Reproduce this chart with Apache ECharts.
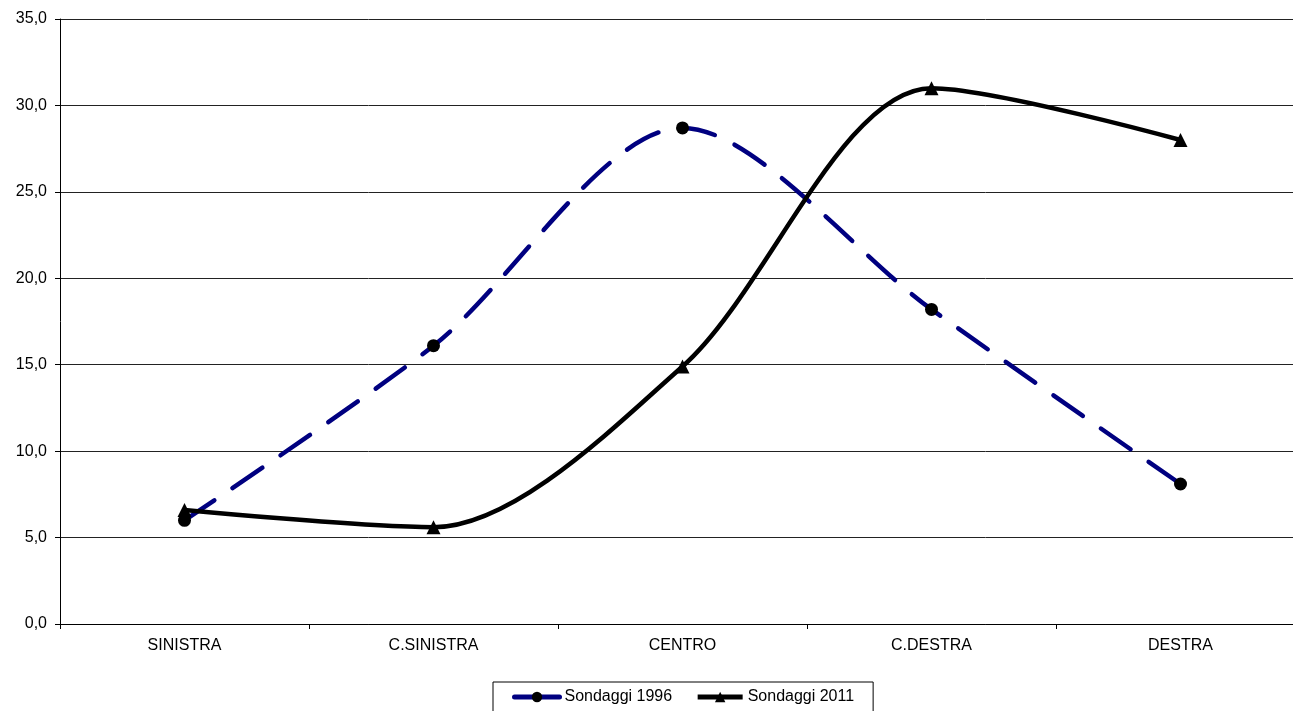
<!DOCTYPE html>
<html><head><meta charset="utf-8">
<script src="https://cdn.jsdelivr.net/npm/echarts@6/dist/echarts.min.js"></script>
<style>html,body{margin:0;padding:0;background:#fff}#c{width:1293px;height:711px}</style>
</head><body><div id="c"></div>
<script>
const categories = ['SINISTRA', 'C.SINISTRA', 'CENTRO', 'C.DESTRA', 'DESTRA'];
const seriesNames = ['Sondaggi 1996', 'Sondaggi 2011'];
const values1996 = [6.0, 16.1, 28.7, 18.2, 8.1];
const values2011 = [6.6, 5.6, 14.9, 31.0, 28.0];
const yTicks = { min: 0, max: 35, interval: 5 };

const chart = echarts.init(document.getElementById('c'), null, { renderer: 'canvas' });
const font = 'Liberation Sans, Arial, sans-serif';
chart.setOption({
  animation: false,
  backgroundColor: '#fff',
  grid: { left: 60, top: 19, right: -12, bottom: 87, containLabel: false, outerBoundsMode: 'none' },
  xAxis: {
    type: 'category', data: categories, boundaryGap: true,
    axisLine: { lineStyle: { color: '#000', width: 1 } },
    axisTick: { show: true, length: 5, lineStyle: { color: '#000' } },
    axisLabel: { color: '#000', fontFamily: font, fontSize: 16, margin: 14 },
    splitLine: { show: false }
  },
  yAxis: {
    type: 'value', min: yTicks.min, max: yTicks.max, interval: yTicks.interval,
    axisLine: { show: true, lineStyle: { color: '#000', width: 1 } },
    axisTick: { show: true, length: 5, lineStyle: { color: '#000' } },
    axisLabel: { color: '#000', fontFamily: font, fontSize: 16, margin: 13,
      formatter: v => v.toFixed(1).replace('.', ',') },
    splitLine: { show: true, lineStyle: { color: '#222', width: 1 } }
  },
  legend: {
    top: 682, left: 493,
    borderColor: '#000', borderWidth: 1, padding: [7, 19, 12, 19],
    itemWidth: 45, itemHeight: 13, itemGap: 23,
    lineStyle: { width: 5, type: 'solid' },
    textStyle: { color: '#000', fontFamily: font, fontSize: 16 },
    data: seriesNames
  },
  series: [
    {
      name: seriesNames[0], type: 'line', data: values1996, smooth: 0.3,
      symbol: 'circle', symbolSize: 13,
      lineStyle: { color: '#000080', width: 4.5, type: [36, 22], cap: 'round' },
      itemStyle: { color: '#000', borderWidth: 0 }, z: 2
    },
    {
      name: seriesNames[1], type: 'line', data: values2011, smooth: 0.3,
      symbol: 'triangle', symbolSize: 14,
      lineStyle: { color: '#000', width: 4.5 },
      itemStyle: { color: '#000', borderWidth: 0 }, z: 3
    }
  ]
});
</script></body></html>
